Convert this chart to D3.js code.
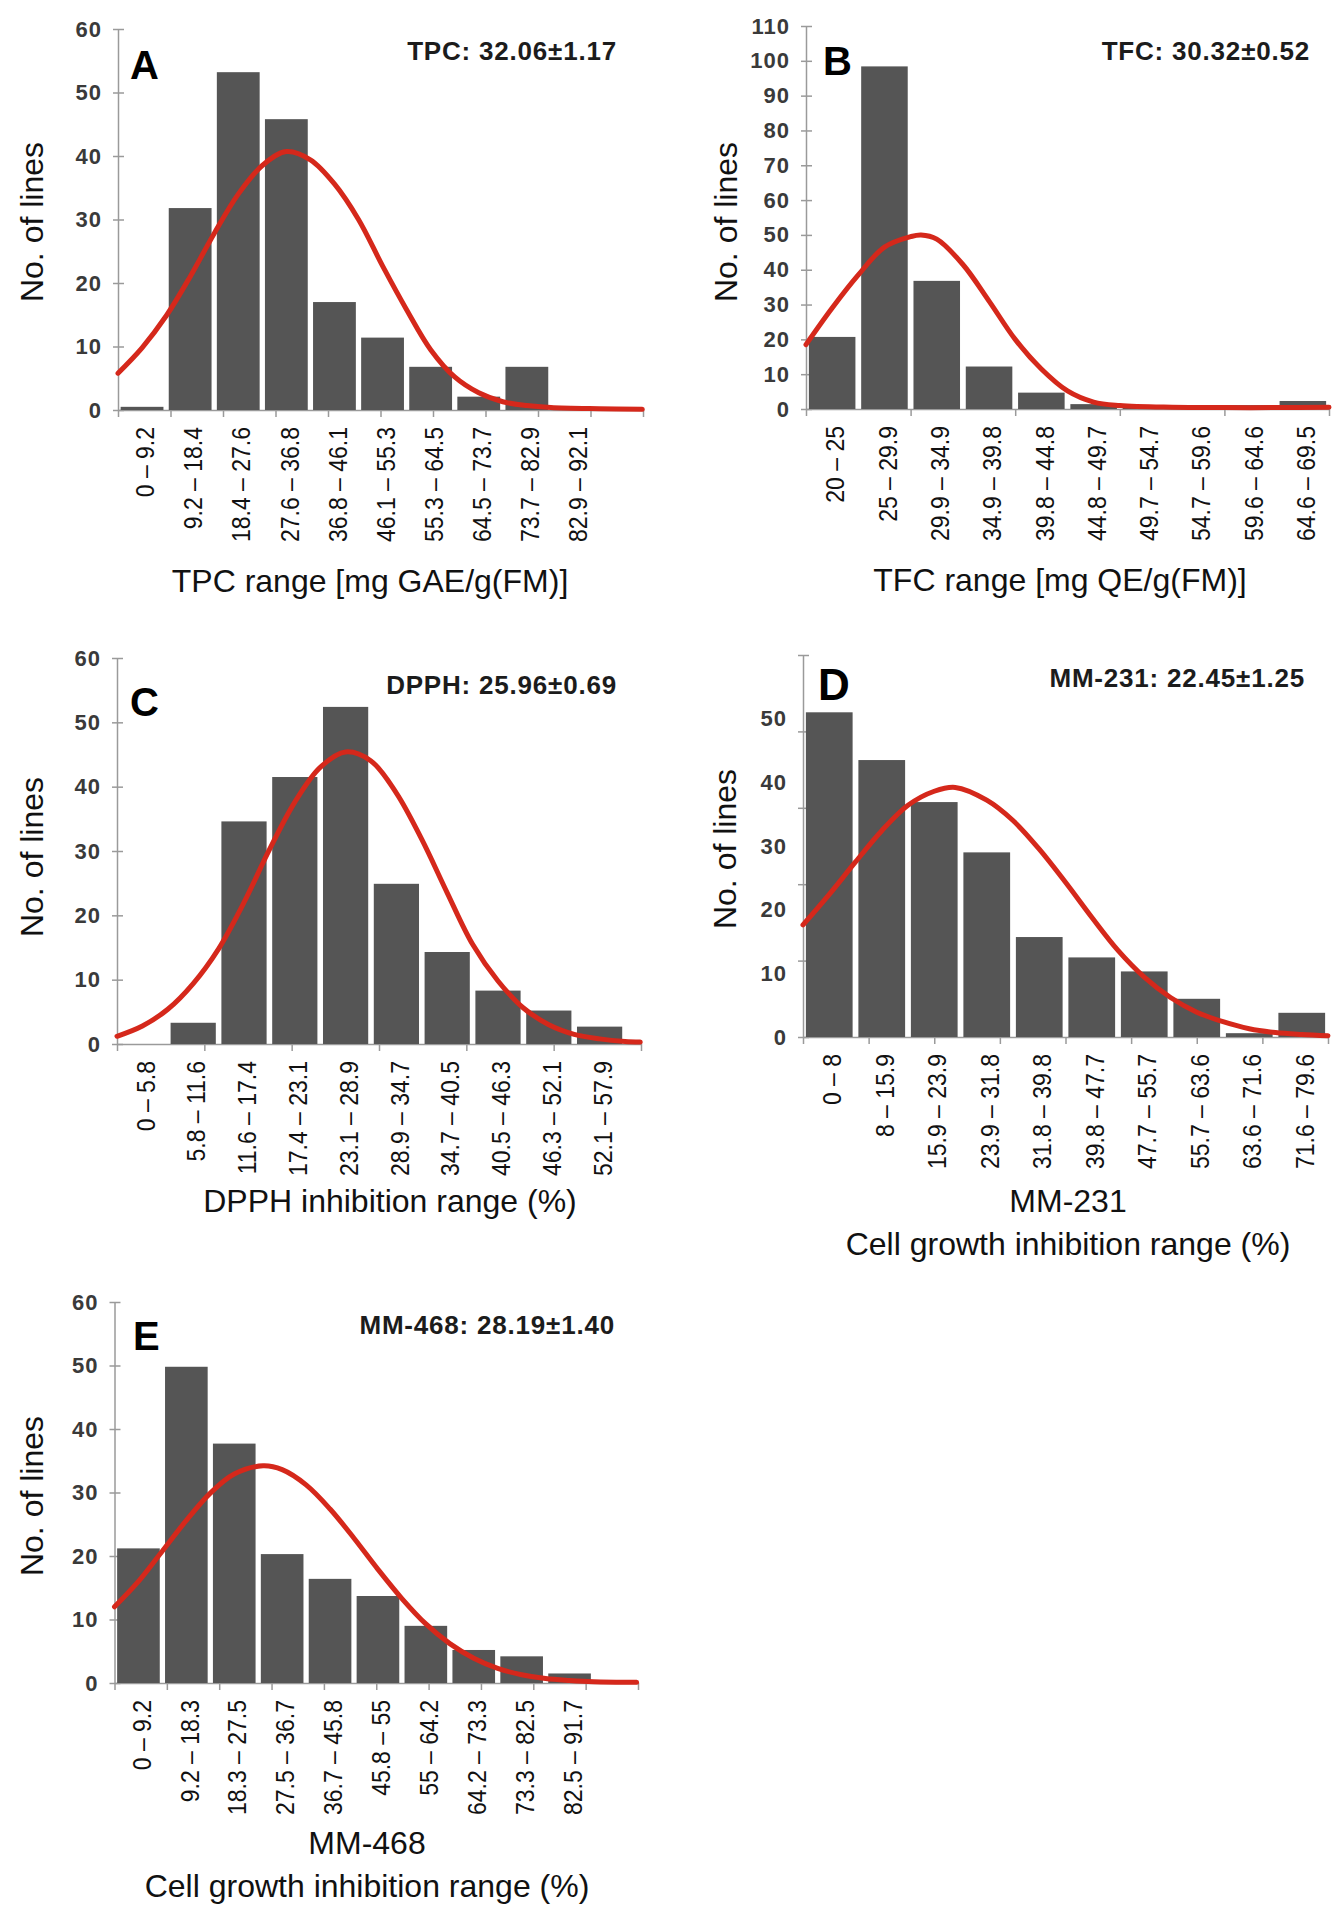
<!DOCTYPE html>
<html>
<head>
<meta charset="utf-8">
<script src="https://cdn.jsdelivr.net/npm/d3@7"></script>
<style>
  body { margin: 0; background: #fff }
  svg text { font-family: "Liberation Sans", Arial, sans-serif }
</style>
</head>
<body>
<svg id="fig" width="1339" height="1920"></svg>
<script>
// Five histograms of phenotype ranges, each with its fitted normal curve.
// Curve points are [position in bins from the left edge, no. of lines].

var tpcBins = ['0 – 9.2', '9.2 – 18.4', '18.4 – 27.6', '27.6 – 36.8', '36.8 – 46.1',
               '46.1 – 55.3', '55.3 – 64.5', '64.5 – 73.7', '73.7 – 82.9', '82.9 – 92.1']
  , tpcCounts = [0.5, 31.8, 53.2, 45.8, 17, 11.4, 6.8, 2.1, 6.8, 0.4]
  , tpcCurve = [[0, 5.8], [0.5, 9.8], [1, 14.8], [1.5, 21], [2, 27.8], [2.5, 34], [3, 38.5],
                [3.5, 40.7], [4, 39.4], [4.5, 35.6], [5, 30], [5.5, 22.7], [6, 15.8], [6.5, 9.5],
                [7, 5.2], [7.5, 2.7], [8, 1.3], [8.5, 0.7], [9, 0.4], [10, 0.2], [10.9, 0.1]]

var tfcBins = ['20 – 25', '25 – 29.9', '29.9 – 34.9', '34.9 – 39.8', '39.8 – 44.8',
               '44.8 – 49.7', '49.7 – 54.7', '54.7 – 59.6', '59.6 – 64.6', '64.6 – 69.5']
  , tfcCounts = [20.7, 98.4, 36.8, 12.2, 4.7, 1.4, 0.8, 0.4, 1.1, 2.3]
  , tfcCurve = [[0, 18.5], [0.5, 29], [1, 38.5], [1.5, 46.5], [2, 49.5], [2.2, 50], [2.5, 48.8],
                [3, 41.5], [3.5, 31], [4, 20], [4.5, 11.5], [5, 5.2], [5.5, 2], [6, 1],
                [7, 0.5], [8, 0.4], [9, 0.4], [10, 0.5]]

var dpphBins = ['0 – 5.8', '5.8 – 11.6', '11.6 – 17.4', '17.4 – 23.1', '23.1 – 28.9',
                '28.9 – 34.7', '34.7 – 40.5', '40.5 – 46.3', '46.3 – 52.1', '52.1 – 57.9']
  , dpphCounts = [0, 3.3, 34.6, 41.5, 52.4, 24.9, 14.3, 8.3, 5.2, 2.7]
  , dpphCurve = [[0, 1.2], [0.5, 2.8], [1, 5.4], [1.5, 9.4], [2, 14.8], [2.5, 22], [3, 30.2],
                 [3.5, 37.6], [4, 43], [4.5, 45.4], [5, 44], [5.5, 39], [6, 31.8], [6.5, 23.5],
                 [7, 15.5], [7.5, 9.8], [8, 5.6], [8.5, 3], [9, 1.5], [9.5, 0.8], [10, 0.4], [10.3, 0.3]]

var mm231Bins = ['0 – 8', '8 – 15.9', '15.9 – 23.9', '23.9 – 31.8', '31.8 – 39.8',
                 '39.8 – 47.7', '47.7 – 55.7', '55.7 – 63.6', '63.6 – 71.6', '71.6 – 79.6']
  , mm231Counts = [51, 43.5, 36.9, 29, 15.7, 12.5, 10.3, 6, 0.6, 3.8]
  , mm231Curve = [[0, 17.6], [0.5, 22.4], [1, 27.5], [1.5, 32.4], [2, 36.4], [2.5, 38.6], [2.9, 39.2],
                  [3.5, 37.2], [4, 34], [4.5, 29.5], [5, 24.3], [5.5, 18.8], [6, 13.6], [6.5, 9.4],
                  [7, 6.2], [7.5, 3.9], [8, 2.4], [8.5, 1.3], [9, 0.7], [9.5, 0.4], [10, 0.2]]

var mm468Bins = ['0 – 9.2', '9.2 – 18.3', '18.3 – 27.5', '27.5 – 36.7', '36.7 – 45.8',
                 '45.8 – 55', '55 – 64.2', '64.2 – 73.3', '73.3 – 82.5', '82.5 – 91.7']
  , mm468Counts = [21.2, 49.8, 37.7, 20.3, 16.4, 13.7, 9, 5.2, 4.2, 1.5]
  , mm468Curve = [[0, 12], [0.5, 16], [1, 20.8], [1.5, 25.6], [2, 29.9], [2.5, 32.9], [3.1, 34.2],
                  [3.5, 33.6], [4, 31.2], [4.5, 27.4], [5, 22.8], [5.5, 17.9], [6, 13.3], [6.5, 9.3],
                  [7, 6.2], [7.5, 3.9], [8, 2.3], [8.5, 1.3], [9, 0.7], [9.5, 0.4], [10, 0.2], [10.9, 0.1]]

var ticks60 = [0, 10, 20, 30, 40, 50, 60]
  , ticks110 = [0, 10, 20, 30, 40, 50, 60, 70, 80, 90, 100, 110]
  , ticks50 = [0, 10, 20, 30, 40, 50]
  , marks231 = [0, 12, 24, 36, 48, 60] // D has its tick marks off its labels

var panels = [
  { letter: 'A', bins: tpcBins, counts: tpcCounts, curve: tpcCurve, yMax: 60,
    yLabels: ticks60, yMarks: ticks60, xDivs: 10,
    stat: 'TPC: 32.06±1.17', title: ['TPC range [mg GAE/g(FM)]'],
    lay: { left: 118, base: 410, top: 29, slot: 48.1, end: 643, letter: [130, 79, 40],
           stat: [617, 60], yTitle: [43, 222], title: [370, 592] } },
  { letter: 'B', bins: tfcBins, counts: tfcCounts, curve: tfcCurve, yMax: 110,
    yLabels: ticks110, yMarks: ticks110, xDivs: 5,
    stat: 'TFC: 30.32±0.52', title: ['TFC range [mg QE/g(FM)]'],
    lay: { left: 806, base: 409, top: 26, slot: 52.3, end: 1329, letter: [823, 75, 40],
           stat: [1310, 60], yTitle: [737, 222], title: [1060, 591] } },
  { letter: 'C', bins: dpphBins, counts: dpphCounts, curve: dpphCurve, yMax: 60,
    yLabels: ticks60, yMarks: ticks60, xDivs: 6,
    stat: 'DPPH: 25.96±0.69', title: ['DPPH inhibition range (%)'],
    lay: { left: 117, base: 1044, top: 658, slot: 50.8, end: 641, letter: [130, 716, 40],
           stat: [617, 694], yTitle: [43, 857], title: [390, 1212] } },
  { letter: 'D', bins: mm231Bins, counts: mm231Counts, curve: mm231Curve, yMax: 60,
    yLabels: ticks50, yMarks: marks231, xDivs: 8,
    stat: 'MM-231: 22.45±1.25', title: ['MM-231', 'Cell growth inhibition range (%)'],
    lay: { left: 803, base: 1037, top: 655, slot: 52.5, end: 1328, letter: [818, 700, 44],
           stat: [1305, 687], yTitle: [736, 849], title: [1068, 1212] } },
  { letter: 'E', bins: mm468Bins, counts: mm468Counts, curve: mm468Curve, yMax: 60,
    yLabels: ticks60, yMarks: ticks60, xDivs: 10,
    stat: 'MM-468: 28.19±1.40', title: ['MM-468', 'Cell growth inhibition range (%)'],
    lay: { left: 114.5, base: 1683, top: 1302, slot: 47.9, end: 638, letter: [133, 1350, 40],
           stat: [615, 1334], yTitle: [43, 1496], title: [367, 1854] } }
]

var svg = d3.select('#fig')
  , axisGrey = '#9a9a9a'

var drawPanel = function(p) {
  var L = p.lay
    , g = svg.append('g')
    , right = L.left + p.bins.length * L.slot
    , x = d3.scaleBand().domain(p.bins).range([L.left, right]).paddingInner(0.11).paddingOuter(0.055)
    , pos = d3.scaleLinear().domain([0, p.bins.length]).range([L.left, right])
    , y = d3.scaleLinear().domain([0, p.yMax]).range([L.base, L.top])
    , marks = d3.scaleLinear().domain([0, p.xDivs]).range([L.left, L.end])

  // x baseline with its tick marks (evenly spaced, not on the bins)
  var xAxis = g.append('g').attr('transform', 'translate(0,' + L.base + ')')
    .call(d3.axisBottom(marks).tickValues(d3.range(p.xDivs + 1)).tickFormat('').tickSize(7).tickSizeOuter(0))
  xAxis.selectAll('path, line').attr('stroke', axisGrey).attr('stroke-width', 1.5)

  // bin labels, written upwards under each bar; glyphs a little wide like the original
  var xLab = g.append('g').attr('transform', 'translate(0,' + L.base + ')')
    .call(d3.axisBottom(x).tickSize(0).tickPadding(0))
  xLab.select('.domain').remove()
  xLab.selectAll('text')
    .attr('transform', 'rotate(-90) scale(1,1.1)')
    .attr('text-anchor', 'end')
    .attr('x', -17).attr('y', 3).attr('dy', '0.35em')
    .attr('font-size', 23).attr('font-family', null).attr('fill', '#111')

  // y axis: marks cross the line, labels sit left of it
  var yAxis = g.append('g').attr('transform', 'translate(' + L.left + ',0)')
    .call(d3.axisLeft(y).tickValues(p.yMarks).tickFormat('').tickSizeInner(5).tickSizeOuter(0))
  yAxis.selectAll('path, line').attr('stroke', axisGrey).attr('stroke-width', 1.5)
  yAxis.selectAll('.tick line').attr('x1', 6)

  var yLab = g.append('g').attr('transform', 'translate(' + L.left + ',0)')
    .call(d3.axisLeft(y).tickValues(p.yLabels).tickSize(0).tickPadding(16))
  yLab.select('.domain').remove()
  yLab.selectAll('text')
    .attr('font-size', 22).attr('font-weight', 'bold').attr('font-family', null)
    .attr('letter-spacing', 1).attr('fill', '#3a3a3a')

  g.append('g').selectAll('rect').data(p.counts).enter().append('rect')
    .attr('x', function(d, i) { return x(p.bins[i]) })
    .attr('width', x.bandwidth())
    .attr('y', function(d) { return y(d) })
    .attr('height', function(d) { return y(0) - y(d) })
    .attr('fill', '#555555')

  var line = d3.line()
    .x(function(d) { return pos(d[0]) })
    .y(function(d) { return y(d[1]) })
    .curve(d3.curveCatmullRom.alpha(0.5))
  g.append('path').datum(p.curve)
    .attr('d', line)
    .attr('fill', 'none')
    .attr('stroke', '#d5281b')
    .attr('stroke-width', 5)
    .attr('stroke-linecap', 'round')
    .attr('stroke-linejoin', 'round')

  g.append('text')
    .attr('x', L.letter[0]).attr('y', L.letter[1])
    .attr('font-size', L.letter[2]).attr('font-weight', 'bold').attr('fill', '#000')
    .text(p.letter)

  g.append('text')
    .attr('x', L.stat[0]).attr('y', L.stat[1])
    .attr('text-anchor', 'end')
    .attr('font-size', 26).attr('font-weight', 'bold').attr('letter-spacing', 0.8).attr('fill', '#1c1c1c')
    .text(p.stat)

  g.append('text')
    .attr('transform', 'translate(' + L.yTitle[0] + ',' + L.yTitle[1] + ') rotate(-90)')
    .attr('text-anchor', 'middle')
    .attr('font-size', 32).attr('fill', '#111')
    .text('No. of lines')

  var title = g.append('text')
    .attr('x', L.title[0]).attr('y', L.title[1])
    .attr('text-anchor', 'middle')
    .attr('font-size', 32).attr('fill', '#111')
  p.title.forEach(function(t, i) {
    title.append('tspan').attr('x', L.title[0]).attr('dy', i ? 43 : 0).text(t)
  })
}

panels.forEach(drawPanel)
</script>
</body>
</html>
